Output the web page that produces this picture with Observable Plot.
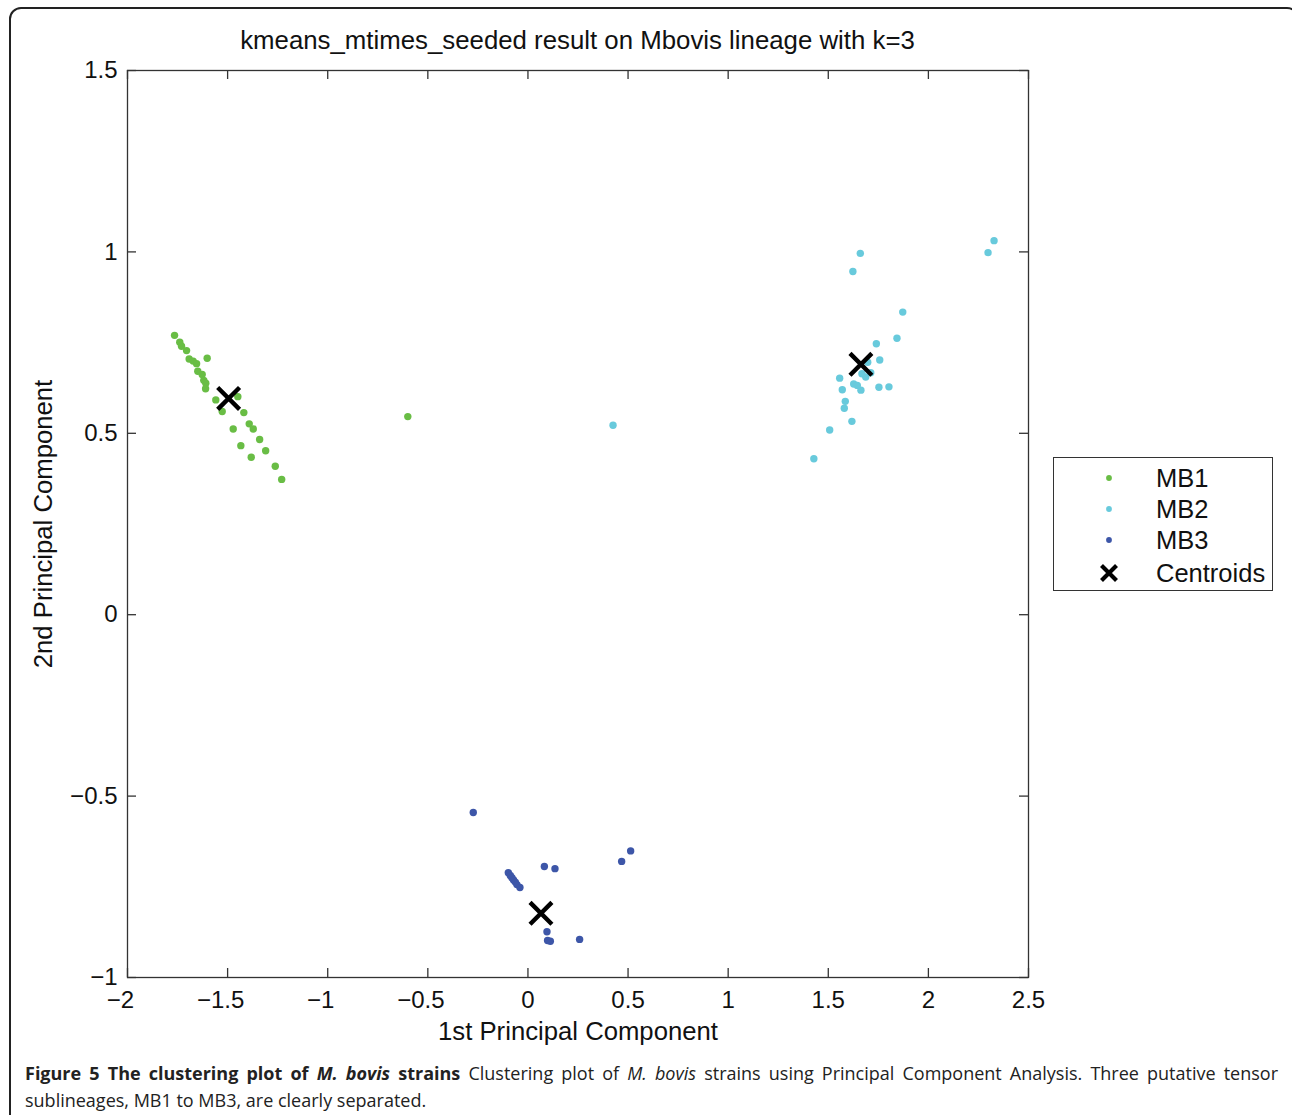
<!DOCTYPE html>
<html>
<head>
<meta charset="utf-8">
<script src="https://cdn.jsdelivr.net/npm/d3@7"></script>
<script src="https://cdn.jsdelivr.net/npm/@observablehq/plot@0.6"></script>
<style>
  html, body { margin: 0; padding: 0; background: #fff; }
  #wrap { position: relative; width: 1292px; height: 1115px; overflow: hidden; background: #fff; }
  #frame { position: absolute; left: 9px; top: 7px; width: 1290px; height: 1200px; border: 2px solid #222; border-radius: 12px; box-sizing: border-box; pointer-events: none; }
  #title { width: 1155px; height: 56px; box-sizing: border-box; padding-top: 26px; line-height: 28px; text-align: center; font-family: "Liberation Sans", Arial, sans-serif; font-size: 25.8px; color: #111; white-space: nowrap; }
  #legend { position: absolute; left: 1053px; top: 457px; width: 220px; height: 134px; box-sizing: border-box; border: 1.3px solid #333; background: #fff; font-family: "Liberation Sans", Arial, sans-serif; font-size: 25.5px; color: #111; }
  .lg { position: absolute; left: 0; height: 32px; line-height: 32px; }
  .lg svg { position: absolute; left: 43px; top: 4px; }
  .lg span { position: absolute; left: 102px; white-space: nowrap; }
  #caption { margin-left: 25px; width: 1253px; padding-top: 10px; font-family: "Open Sans", sans-serif; font-size: 18px; line-height: 27px; color: #222; }
  #caption .l1 { text-align: justify; text-align-last: justify; white-space: nowrap; }
</style>
</head>
<body>
<div id="wrap">
  <div id="title">kmeans_mtimes_seeded result on Mbovis lineage with k=3</div>
  <div id="chart"></div>
  <div id="legend"></div>
  <div id="caption"><div class="l1"><b>Figure 5 The clustering plot of <i>M. bovis</i> strains</b> Clustering plot of <i>M. bovis</i> strains using Principal Component Analysis. Three putative tensor</div><div>sublineages, MB1 to MB3, are clearly separated.</div></div>
  <div id="frame"></div>
</div>
<script>
// ---- data ----
const clusters = ["MB1", "MB2", "MB3"];
const clusterColors = ["#69bd45", "#68cadc", "#3d56a8"];

const mb1X = [-1.765, -1.739, -1.730, -1.705, -1.692, -1.672, -1.655, -1.602, -1.649, -1.627, -1.619, -1.609, -1.610, -1.559, -1.527, -1.449, -1.419, -1.392, -1.372, -1.472, -1.340, -1.434, -1.310, -1.382, -1.262, -1.230, -0.600];
const mb1Y = [0.770, 0.751, 0.740, 0.728, 0.705, 0.699, 0.692, 0.707, 0.671, 0.662, 0.646, 0.638, 0.623, 0.592, 0.560, 0.601, 0.557, 0.526, 0.512, 0.512, 0.483, 0.466, 0.452, 0.434, 0.409, 0.373, 0.546];

const mb2X = [1.660, 1.623, 2.328, 2.298, 1.872, 1.843, 1.740, 1.757, 1.697, 1.712, 1.687, 1.668, 1.557, 1.627, 1.645, 1.663, 1.570, 1.753, 1.803, 1.585, 1.580, 1.618, 1.507, 1.428, 0.425];
const mb2Y = [0.996, 0.946, 1.031, 0.998, 0.834, 0.762, 0.747, 0.702, 0.696, 0.667, 0.655, 0.664, 0.652, 0.636, 0.632, 0.619, 0.620, 0.627, 0.628, 0.588, 0.569, 0.533, 0.509, 0.430, 0.522];

const mb3X = [-0.273, 0.082, 0.135, 0.468, 0.513, -0.098, -0.088, -0.080, -0.072, -0.063, -0.055, -0.040, 0.095, 0.098, 0.112, 0.258];
const mb3Y = [-0.545, -0.694, -0.700, -0.680, -0.651, -0.711, -0.719, -0.725, -0.731, -0.737, -0.744, -0.752, -0.874, -0.898, -0.900, -0.895];

const centroidX = [-1.495, 1.663, 0.065];
const centroidY = [0.596, 0.690, -0.823];

const xTicks = [-2, -1.5, -1, -0.5, 0, 0.5, 1, 1.5, 2, 2.5];
const yTicks = [-1, -0.5, 0, 0.5, 1, 1.5];

const xLabel = "1st Principal Component";
const yLabel = "2nd Principal Component";

// ---- build table ----
const points = [];
[[mb1X, mb1Y], [mb2X, mb2Y], [mb3X, mb3Y]].forEach(([xs, ys], i) => {
  xs.forEach((x, j) => points.push({cluster: clusters[i], x, y: ys[j]}));
});
const centroids = centroidX.map((x, i) => ({x, y: centroidY[i]}));

const W = 1292, H = 994;
const mL = 127, mR = 264, mT = 14, mB = 73;
const plotW = W - mL - mR, plotH = H - mT - mB;
const TL = 9; // tick length
const fmt = d => d < 0 ? "\u2212" + Math.abs(d) : String(d);
const font = "Liberation Sans, Arial, sans-serif";

const chart = Plot.plot({
  width: W, height: H,
  marginLeft: mL, marginRight: mR, marginTop: mT, marginBottom: mB,
  style: {fontFamily: font, fontSize: "24px", color: "#111", background: "transparent"},
  x: {domain: [-2, 2.5]},
  y: {domain: [-1, 1.5]},
  color: {domain: clusters, range: clusterColors},
  marks: [
    Plot.dot(points, {x: "x", y: "y", fill: "cluster", r: 3.7}),
    Plot.dot(centroids, {x: "x", y: "y", symbol: "times", r: 10, stroke: "#000", strokeWidth: 4.4}),
    Plot.frame({stroke: "#333", strokeWidth: 1.3}),
    Plot.tickX(xTicks, {x: d => d, insetTop: plotH - TL, stroke: "#333", strokeWidth: 1.3}),
    Plot.tickX(xTicks, {x: d => d, insetBottom: plotH - TL, stroke: "#333", strokeWidth: 1.3}),
    Plot.tickY(yTicks, {y: d => d, insetRight: plotW - TL, stroke: "#333", strokeWidth: 1.3}),
    Plot.tickY(yTicks, {y: d => d, insetLeft: plotW - TL, stroke: "#333", strokeWidth: 1.3}),
    Plot.axisX(xTicks.filter(d => d < 0), {tickSize: 0, tickPadding: 13, dx: -7, tickFormat: fmt, label: null, fill: "#111"}),
    Plot.axisX(xTicks.filter(d => d >= 0), {tickSize: 0, tickPadding: 13, tickFormat: fmt, label: null, fill: "#111"}),
    Plot.axisY(yTicks, {tickSize: 0, tickPadding: 10, tickFormat: fmt, label: null, fill: "#111"}),
    Plot.text([xLabel], {text: d => d, frameAnchor: "bottom", lineAnchor: "middle", textAnchor: "middle", dy: 54, fontSize: 25.7, fill: "#111"}),
    Plot.text([yLabel], {text: d => d, frameAnchor: "left", lineAnchor: "middle", textAnchor: "middle", dx: -84, rotate: -90, fontSize: 25.7, fill: "#111"})
  ]
});
document.getElementById("chart").appendChild(chart);

// ---- legend ----
const legend = document.getElementById("legend");
const entries = clusters.map((c, i) => ({label: c, color: clusterColors[i], kind: "dot"}));
entries.push({label: "Centroids", kind: "x"});
const tops = [4, 35, 66, 99];
entries.forEach((e, i) => {
  const row = document.createElement("div");
  row.className = "lg";
  row.style.top = tops[i] + "px";
  const marker = e.kind === "dot"
    ? `<svg width="24" height="24"><circle cx="12" cy="12" r="2.9" fill="${e.color}"/></svg>`
    : `<svg width="24" height="24"><path d="M4.5,4.5L19.5,19.5M19.5,4.5L4.5,19.5" stroke="#000" stroke-width="4.2"/></svg>`;
  row.innerHTML = marker + `<span>${e.label}</span>`;
  row.style.width = "100%";
  legend.appendChild(row);
});
</script>
</body>
</html>
